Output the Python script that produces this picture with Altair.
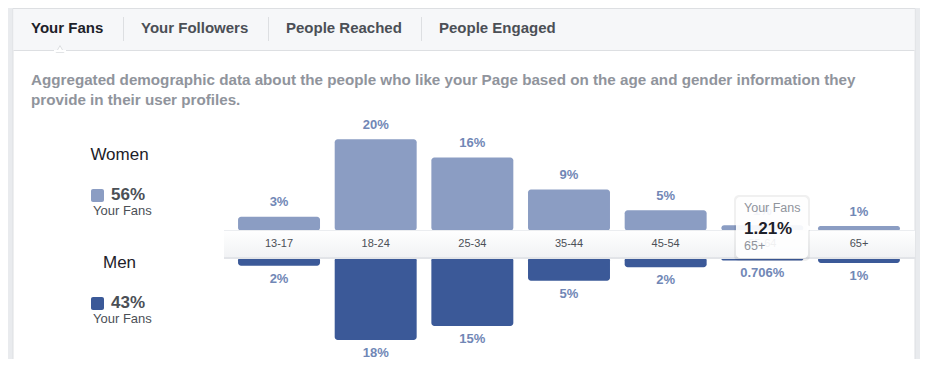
import altair as alt
import pandas as pd

# ---- data ----
ages = ["13-17", "18-24", "25-34", "35-44", "45-54", "55-64", "65+"]
women = [3.1, 20.1, 16.1, 9.1, 4.5, 1.21, 1.05]
men = [1.9, 18.2, 15.1, 5.2, 2.2, 0.706, 1.27]
women_labels = ["3%", "20%", "16%", "9%", "5%", "1%", "1%"]
men_labels = ["2%", "18%", "15%", "5%", "2%", "0.706%", "1%"]

tabs = ["Your Fans", "Your Followers", "People Reached", "People Engaged"]
description = [
    "Aggregated demographic data about the people who like your Page based on the age and gender information they",
    "provide in their user profiles.",
]
legend_names = ["Women", "Men"]
legend_shares = ["56%", "43%"]

FONT = "Liberation Sans"
WOMEN_C = "#8b9dc3"
MEN_C = "#3b5998"
LABEL_C = "#7187b6"

GAP = 2.9  # half height of the centre band, in percent units
K = 4.55   # pixels per percent

df = pd.DataFrame({
    "age": ages,
    "women": women,
    "men": men,
    "wl": women_labels,
    "ml": men_labels,
})
df["w0"] = GAP
df["w1"] = GAP + df["women"]
df["m0"] = -GAP
df["m1"] = -GAP - df["men"]
df["zero"] = 0.0

xs = alt.Scale(domain=ages, range=[222.7, 899.3], paddingInner=0.152, paddingOuter=0.076)
ys = alt.Scale(domain=[-10, 20], range=[236 + 10 * K, 236 - 20 * K], nice=False, zero=False)
X = alt.X("age:N", scale=xs, axis=None, sort=ages)

one = alt.Data(values=[{}])


def rect(x, x2, y, y2, **kw):
    return alt.Chart(one).mark_rect(**kw).encode(
        x=alt.value(x), x2=alt.value(x2), y=alt.value(y), y2=alt.value(y2))


def text(s, x, y, **kw):
    base = dict(font=FONT, baseline="middle")
    base.update(kw)
    return alt.Chart(one).mark_text(text=s, **base).encode(x=alt.value(x), y=alt.value(y))


layers = []
# card and tab bar
layers.append(rect(5, 907, 0.5, 420, fill="white", stroke="#dddfe2", strokeWidth=1))
layers.append(rect(5.5, 906.5, 1, 42, fill="#f6f7f9"))
layers.append(rect(5.5, 906.5, 42, 43, fill="#dddfe2"))
for sx in [115, 260, 413]:
    layers.append(rect(sx, sx + 1, 9, 33, fill="#dddfe2"))
tab_x = [23, 133, 278, 431]
for i, (t, tx) in enumerate(zip(tabs, tab_x)):
    layers.append(text(t, tx, 20, align="left", fontSize=15, fontWeight="bold",
                       color="#1d2129" if i == 0 else "#4b4f56"))
# caret under active tab
layers.append(alt.Chart(one).mark_point(shape="triangle-up", filled=True, fill="white",
                                        stroke="#dddfe2", strokeWidth=1, size=60, opacity=1)
              .encode(x=alt.value(52), y=alt.value(41)))
layers.append(rect(46, 58, 42, 44, fill="white"))

# description
for j, line in enumerate(description):
    layers.append(text(line, 23, 72 + 20 * j, align="left", fontSize=15.2,
                       fontWeight="bold", color="#90949c"))

# legend
leg_y = [147, 255]
for n, name in enumerate(legend_names):
    yy = leg_y[n]
    layers.append(text(name, 111.5, yy, align="center", fontSize=17, color="#1d2129"))
    layers.append(rect(83, 96, yy + 34, yy + 47, fill=WOMEN_C if n == 0 else MEN_C, cornerRadius=2))
    layers.append(text(legend_shares[n], 103, yy + 40, align="left", fontSize=17,
                       fontWeight="bold", color="#4b4f56"))
    layers.append(text("Your Fans", 85, yy + 56, align="left", fontSize=13, color="#4b4f56"))

base = alt.Chart(df)
women_bars = base.mark_bar(color=WOMEN_C, cornerRadius=3).encode(
    x=X, y=alt.Y("w0:Q", scale=ys, axis=None), y2="w1:Q")
men_bars = base.mark_bar(color=MEN_C, cornerRadius=3).encode(
    x=X, y=alt.Y("m0:Q", scale=ys, axis=None), y2="m1:Q")
women_txt = base.mark_text(font=FONT, fontSize=13, fontWeight="bold", color=LABEL_C,
                           baseline="middle", dy=-14.5).encode(
    x=X, y=alt.Y("w1:Q", scale=ys, axis=None), text="wl:N")
men_txt = base.mark_text(font=FONT, fontSize=13, fontWeight="bold", color=LABEL_C,
                         baseline="middle", dy=13).encode(
    x=X, y=alt.Y("m1:Q", scale=ys, axis=None), text="ml:N")
layers += [women_bars, men_bars, women_txt, men_txt]

# centre band
grad = alt.LinearGradient(gradient="linear",
                          stops=[alt.GradientStop(color="#ffffff", offset=0),
                                 alt.GradientStop(color="#f1f2f4", offset=1)],
                          x1=0, x2=0, y1=0, y2=1)
layers.append(rect(216, 907, 222, 250, color=grad))
layers.append(rect(216, 907, 222, 223, fill="#ebedf0"))
layers.append(rect(216, 907, 249, 251, fill="#e2e4e8"))
age_txt = base.mark_text(font=FONT, fontSize=11, color="#4b4f56", baseline="middle").encode(
    x=X, y=alt.Y("zero:Q", scale=ys, axis=None), text="age:N")
layers.append(age_txt)

# tooltip
layers.append(rect(726, 802, 187, 253, fill="#000000", opacity=0.06, cornerRadius=5))
layers.append(rect(728, 800, 189, 250, fill="white", opacity=0.92, cornerRadius=4))
layers.append(alt.Chart(one).mark_point(shape="triangle-right", filled=True, fill="white",
                                        size=40, opacity=1)
              .encode(x=alt.value(802), y=alt.value(220)))
layers.append(text("Your Fans", 736, 200, align="left", fontSize=12.5, color="#90949c"))
layers.append(text("1.21%", 736, 221, align="left", fontSize=17, fontWeight="bold", color="#1d2129"))
layers.append(text("65+", 736, 238, align="left", fontSize=12.5, color="#90949c"))

chart = alt.layer(*layers).properties(
    width=912, height=351,
    autosize=alt.AutoSizeParams(type="fit", contains="padding"),
    padding=0, background="#e9ebee",
).configure_view(stroke=None)

chart.save("out.html", embed_options={"renderer": "svg", "actions": False})
